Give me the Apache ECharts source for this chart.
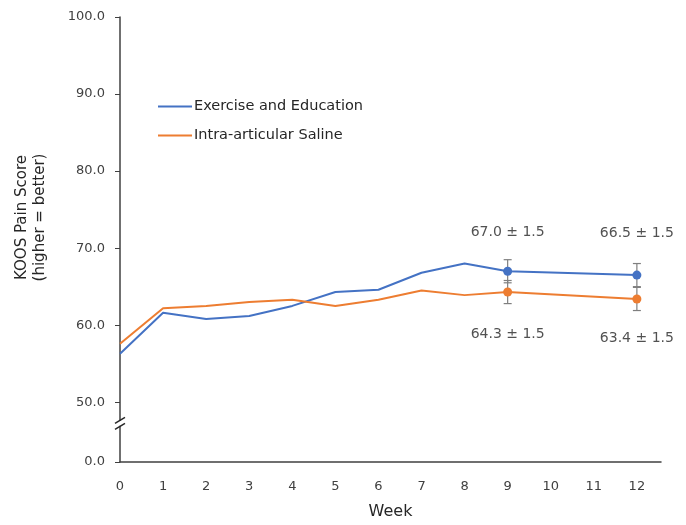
<!DOCTYPE html>
<html>
<head>
<meta charset="utf-8">
<script src="https://cdn.jsdelivr.net/npm/echarts@6/dist/echarts.min.js"></script>
<style>
  html, body { margin: 0; padding: 0; background: #fff; }
  #chart { width: 686px; height: 525px; }
</style>
</head>
<body>
<div id="chart"></div>
<script>
// Weekly KOOS pain scores for the two arms (weeks 10 and 11 not measured)
const weeks = [0, 1, 2, 3, 4, 5, 6, 7, 8, 9, 12];
const weekTicks = [0, 1, 2, 3, 4, 5, 6, 7, 8, 9, 10, 11, 12];
const exerciseScores = [56.3, 61.6, 60.8, 61.2, 62.5, 64.3, 64.6, 66.8, 68.0, 67.0, 66.5];
const salineScores = [57.6, 62.2, 62.5, 63.0, 63.3, 62.5, 63.3, 64.5, 63.9, 64.3, 63.4];
// Summary points with standard error
const summaryWeeks = [9, 12];
const exerciseSummary = [67.0, 66.5];
const salineSummary = [64.3, 63.4];
const summaryError = [1.5, 1.5];
// Y axis: zero shown below a break, then 50..100
const yTickValues = [0, 50, 60, 70, 80, 90, 100];
const seriesNames = ['Exercise and Education', 'Intra-articular Saline'];

const BLUE = '#4472C4';
const ORANGE = '#ED7D31';
const AXIS_TEXT = '#404040';
const FONT = 'DejaVu Sans';

// The broken axis starts a little below 50; the "0" tick is placed at its bottom.
const Y_FLOOR = 42.24;
const toAxis = v => (v === 0 ? Y_FLOOR : v);

const chart = echarts.init(document.getElementById('chart'));

function lineData(values) {
  return weeks.map((w, i) => {
    const item = { value: [w, values[i]] };
    if (summaryWeeks.indexOf(w) >= 0) {
      item.symbol = 'circle';
      item.symbolSize = 9;
    }
    return item;
  });
}

function labelled(values, pos, distances) {
  return summaryWeeks.map((w, i) => ({
    value: [w, values[i]],
    label: {
      show: true,
      position: pos,
      distance: distances[i],
      formatter: values[i].toFixed(1) + ' \u00b1 ' + summaryError[i].toFixed(1)
    }
  }));
}

function errorBars(values, color) {
  return {
    type: 'custom',
    z: 1,
    silent: true,
    data: summaryWeeks.map((w, i) => [w, values[i] - summaryError[i], values[i] + summaryError[i]]),
    renderItem: function (params, api) {
      const lo = api.coord([api.value(0), api.value(1)]);
      const hi = api.coord([api.value(0), api.value(2)]);
      const hw = 4;
      const style = { stroke: color, lineWidth: 1.2 };
      return {
        type: 'group',
        children: [
          { type: 'line', shape: { x1: lo[0], y1: lo[1], x2: hi[0], y2: hi[1] }, style },
          { type: 'line', shape: { x1: lo[0] - hw, y1: lo[1], x2: lo[0] + hw, y2: lo[1] }, style },
          { type: 'line', shape: { x1: hi[0] - hw, y1: hi[1], x2: hi[0] + hw, y2: hi[1] }, style }
        ]
      };
    }
  };
}

const labelStyle = { color: '#262626', fontSize: 14, fontFamily: FONT };

chart.setOption({
  animation: false,
  backgroundColor: '#fff',
  textStyle: { fontFamily: FONT },
  grid: { left: 120, right: 25, top: 17, bottom: 62, containLabel: false },
  legend: {
    left: 153,
    top: 94,
    orient: 'vertical',
    itemGap: 14,
    itemWidth: 34,
    itemHeight: 2,
    icon: 'rect',
    textStyle: { color: '#262626', fontSize: 14.5, fontFamily: FONT, padding: [0, 0, 0, -3] },
    data: seriesNames
  },
  xAxis: {
    type: 'value',
    min: 0,
    max: 12.56,
    name: 'Week',
    nameLocation: 'middle',
    nameGap: 42,
    nameTextStyle: { color: '#262626', fontSize: 16, fontFamily: FONT },
    axisLine: { show: true, lineStyle: { color: '#404040', width: 1.5 } },
    axisTick: { show: false },
    splitLine: { show: false },
    axisLabel: {
      customValues: weekTicks,
      color: AXIS_TEXT,
      fontSize: 13,
      margin: 18,
      formatter: v => String(v)
    }
  },
  yAxis: {
    type: 'value',
    min: Y_FLOOR,
    max: 100,
    name: 'KOOS Pain Score\n(higher = better)',
    nameLocation: 'middle',
    nameGap: 71,
    nameTextStyle: {
      color: '#262626', fontSize: 15, fontFamily: FONT, lineHeight: 18,
      padding: [0, 0, 0, 44]
    },
    axisLine: { show: true, lineStyle: { color: '#404040', width: 1.5 } },
    axisTick: {
      show: true,
      customValues: yTickValues.map(toAxis),
      length: 5,
      lineStyle: { color: '#404040' }
    },
    splitLine: { show: false },
    axisLabel: {
      customValues: yTickValues.map(toAxis),
      color: AXIS_TEXT,
      fontSize: 13,
      margin: 15,
      formatter: v => (v < 45 ? 0 : v).toFixed(1)
    }
  },
  series: [
    errorBars(exerciseSummary, '#7f7f7f'),
    errorBars(salineSummary, '#7f7f7f'),
    {
      name: seriesNames[0],
      type: 'line',
      z: 3,
      symbol: 'none',
      lineStyle: { color: BLUE, width: 2 },
      itemStyle: { color: BLUE },
      data: lineData(exerciseScores)
    },
    {
      name: seriesNames[1],
      type: 'line',
      z: 3,
      symbol: 'none',
      lineStyle: { color: ORANGE, width: 2 },
      itemStyle: { color: ORANGE },
      data: lineData(salineScores)
    },
    {
      type: 'scatter',
      symbolSize: 0,
      silent: true,
      label: labelStyle,
      data: labelled(exerciseSummary, 'top', [32, 35])
    },
    {
      type: 'scatter',
      symbolSize: 0,
      silent: true,
      label: labelStyle,
      data: labelled(salineSummary, 'bottom', [35, 32])
    }
  ]
});

// Axis break marker "//" on the y axis between 0 and 50
const breakAt = chart.convertToPixel({ gridIndex: 0 }, [0, 47.2]);
const bx = breakAt[0], by = breakAt[1];
chart.setOption({
  graphic: [
    { type: 'rect', shape: { x: bx - 3, y: by - 3, width: 6, height: 5 }, style: { fill: '#fff' }, z: 100 },
    { type: 'line', shape: { x1: bx - 5, y1: by - 0.5, x2: bx + 5, y2: by - 6.5 }, style: { stroke: '#262626', lineWidth: 1.5 }, z: 101 },
    { type: 'line', shape: { x1: bx - 5, y1: by + 5.5, x2: bx + 5, y2: by - 0.5 }, style: { stroke: '#262626', lineWidth: 1.5 }, z: 101 }
  ]
});
</script>
</body>
</html>
